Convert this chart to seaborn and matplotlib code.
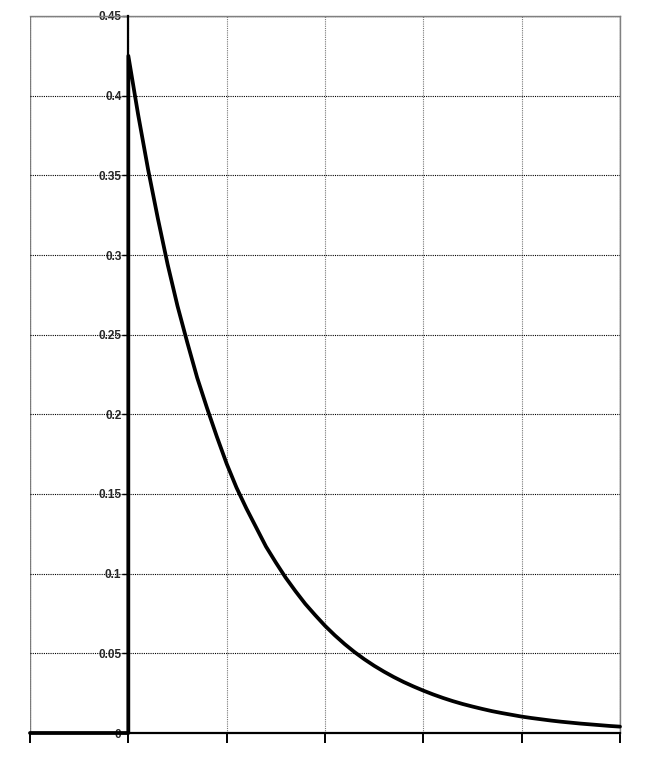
import matplotlib
matplotlib.use("Agg")
import matplotlib.pyplot as plt
import seaborn as sns
import pandas as pd
from matplotlib.patches import Rectangle

# Data
x_vals = [-1.0, 0.0, 0.0, 0.1, 0.2, 0.3, 0.4, 0.5, 0.6, 0.7, 0.8, 0.9, 1.0,
          1.1, 1.2, 1.3, 1.4, 1.5, 1.6, 1.7, 1.8, 1.9, 2.0,
          2.1, 2.2, 2.3, 2.4, 2.5, 2.6, 2.7, 2.8, 2.9, 3.0,
          3.1, 3.2, 3.3, 3.4, 3.5, 3.6, 3.7, 3.8, 3.9, 4.0,
          4.1, 4.2, 4.3, 4.4, 4.5, 4.6, 4.7, 4.8, 4.9, 5.0]
y_vals = [0.0, 0.0, 0.425, 0.388, 0.354, 0.323, 0.294, 0.268, 0.245, 0.223, 0.204, 0.186, 0.169,
          0.154, 0.141, 0.129, 0.117, 0.107, 0.0975, 0.089, 0.081, 0.074, 0.0673,
          0.0613, 0.0558, 0.0508, 0.0463, 0.0422, 0.0385, 0.0351, 0.0320, 0.0292, 0.0266,
          0.0242, 0.0220, 0.0200, 0.0182, 0.0166, 0.0151, 0.0137, 0.0125, 0.0114, 0.0103,
          0.0094, 0.0086, 0.0078, 0.0071, 0.0065, 0.0059, 0.0054, 0.0049, 0.0044, 0.0040]
x_ticks = [-1, 0, 1, 2, 3, 4, 5]
y_ticks = [0, 0.05, 0.1, 0.15, 0.2, 0.25, 0.3, 0.35, 0.4, 0.45]
y_tick_labels = ["0", "0.05", "0.1", "0.15", "0.2", "0.25", "0.3", "0.35", "0.4", "0.45"]

df = pd.DataFrame({"x": x_vals, "y": y_vals})

sns.set_style("white")
plt.rcParams['font.family'] = ['Liberation Sans', 'DejaVu Sans']

fig = plt.figure(figsize=(6.5, 7.7), dpi=100)
ax = fig.add_axes([30/650, 1-733/770, 590/650, 717/770])

ax.spines["left"].set_position(("data", 0))

sns.lineplot(data=df, x="x", y="y", sort=False, estimator=None, ax=ax,
             color="black", linewidth=2.7, clip_on=False, zorder=5)

ax.set_xlim(-1, 5)
ax.set_ylim(0, 0.45)
ax.set_xticks(x_ticks)
ax.set_yticks(y_ticks)
ax.set_xticklabels([])
ax.set_yticklabels(y_tick_labels)
for lab in ax.get_yticklabels():
    lab.set_fontweight("bold")
    lab.set_fontsize(8.5)
ax.set_xlabel("")
ax.set_ylabel("")

ax.grid(axis="y", linestyle=(0, (1, 1)), color="black", linewidth=0.8)
ax.grid(axis="x", linestyle=(0, (1, 1)), color="#777777", linewidth=0.8)
ax.set_axisbelow(True)

ax.spines["left"].set_color("black")
ax.spines["left"].set_linewidth(1.6)
ax.spines["left"].set_zorder(6)
ax.spines["bottom"].set_color("black")
ax.spines["bottom"].set_linewidth(1.6)
for s in ["top", "right"]:
    ax.spines[s].set_color("#808080")
    ax.spines[s].set_linewidth(1.0)
ax.add_patch(Rectangle((0, 0), 1, 1, transform=ax.transAxes, fill=False,
                       edgecolor="#808080", linewidth=1.0, zorder=0.5))

ax.tick_params(axis="x", direction="out", length=7, width=1.4, color="black", bottom=True)
ax.tick_params(axis="y", direction="out", length=4, width=1.0, color="black", left=True, pad=1)

fig.savefig("out.png", dpi=100, facecolor="white")
